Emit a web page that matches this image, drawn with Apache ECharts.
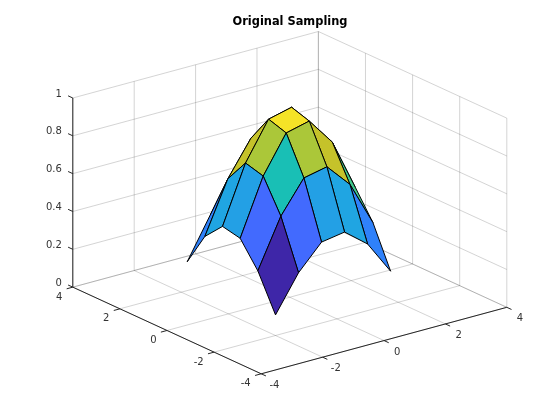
<!DOCTYPE html>
<html>
<head>
<meta charset="utf-8">
<style>html,body{margin:0;padding:0;background:#fff}#chart{width:560px;height:420px}</style>
<script src="https://cdn.jsdelivr.net/npm/echarts@6/dist/echarts.min.js"></script>
</head>
<body>
<div id="chart"></div>
<script>
const chartTitle = 'Original Sampling';
const xSamples = [-2, -1.25, -0.5, 0.25, 1, 1.75];
const ySamples = [-2, -1.25, -0.5, 0.25, 1, 1.75];
// Heights; one row per x sample, one column per y sample.
const row0 = [0.109, 0.299, 0.428, 0.448, 0.352, 0.175];
const row1 = [0.299, 0.555, 0.724, 0.750, 0.624, 0.389];
const row2 = [0.428, 0.724, 0.919, 0.949, 0.805, 0.533];
const row3 = [0.448, 0.750, 0.949, 0.979, 0.832, 0.555];
const row4 = [0.352, 0.624, 0.805, 0.832, 0.699, 0.448];
const row5 = [0.175, 0.389, 0.533, 0.555, 0.448, 0.250];
const heights = [row0, row1, row2, row3, row4, row5];
const xTicks = [-4, -2, 0, 2, 4];
const yTicks = [-4, -2, 0, 2, 4];
const zTicks = [0, 0.2, 0.4, 0.6, 0.8, 1];
const zTickLabels = ['0', '0.2', '0.4', '0.6', '0.8', '1'];
const parula = ['#3e26a8','#402ab4','#422ebf','#4332cb','#4537d5','#4641de','#4741e5','#4747eb','#484df0','#4852f4','#4758f8','#465efb','#4563fd','#426afe','#3e6fff','#3875fe','#327bfc','#2f81fa','#2d87f7','#2d8cf3','#2b91ef','#2796eb','#259be7','#23a0e5','#20a5e2','#1ca9df','#18addb','#12b1d6','#08b5d0','#01b8ca','#02bac3','#0bbdbc','#19bfb5','#24c1ae','#2cc3a7','#31c69f','#37c897','#3fca8e','#4acb84','#57cc7a','#64cd6f','#71cd64','#80cc59','#8fcb4e','#9dc943','#abc739','#b9c431','#c5c22a','#d1bf27','#dcbd29','#e6bb2d','#efba36','#f8ba3d','#feb93c','#fec338','#fec934','#fccf30','#f9d62d','#f7dc2a','#f5e327','#f5e924','#f6ef20','#f7f51b','#f9fb15'];

const view = { az: -37.5, el: 30 };
const xRange = [-4, 4], yRange = [-4, 4], zRange = [0, 1];
const az = view.az * Math.PI / 180, el = view.el * Math.PI / 180;
const uMax = (Math.cos(az) + Math.abs(Math.sin(az))) / 2;
const vMax = (Math.abs(Math.sin(az)) * Math.sin(el) + Math.cos(az) * Math.sin(el) + Math.cos(el)) / 2;

function project(x, y, z) {
  const X = (x - xRange[0]) / (xRange[1] - xRange[0]) - 0.5;
  const Y = (y - yRange[0]) / (yRange[1] - yRange[0]) - 0.5;
  const Z = (z - zRange[0]) / (zRange[1] - zRange[0]) - 0.5;
  return [
    X * Math.cos(az) + Y * Math.sin(az),
    -X * Math.sin(az) * Math.sin(el) + Y * Math.cos(az) * Math.sin(el) + Z * Math.cos(el)
  ];
}

const zLo = Math.min(...heights.flat()), zHi = Math.max(...heights.flat());
function faceColor(z) {
  const k = Math.min(parula.length - 1, Math.floor((z - zLo) / (zHi - zLo) * parula.length));
  return parula[k];
}

// Faces, farthest from the viewer first
const faces = [];
for (let i = xSamples.length - 2; i >= 0; i--) {
  for (let j = ySamples.length - 2; j >= 0; j--) {
    faces.push([i, j, heights[i][j]]);
  }
}

// Grid lines on the floor and the two back walls: [x0,y0,z0,x1,y1,z1]
const gridSegs = [];
xTicks.forEach(x => gridSegs.push([x, -4, 0, x, 4, 0], [x, 4, 0, x, 4, 1]));
yTicks.forEach(y => gridSegs.push([-4, y, 0, 4, y, 0], [4, y, 0, 4, y, 1]));
zTicks.forEach(z => gridSegs.push([-4, 4, z, 4, 4, z], [4, 4, z, 4, -4, z]));

// Axis lines and tick marks
const tickLen = 0.2;
const axisSegs = [[-4, 4, 0, -4, 4, 1], [-4, 4, 0, -4, -4, 0], [-4, -4, 0, 4, -4, 0]];
xTicks.forEach(x => axisSegs.push([x, -4, 0, x, -4 - tickLen, 0]));
yTicks.forEach(y => axisSegs.push([-4, y, 0, -4 - tickLen, y, 0]));
zTicks.forEach(z => axisSegs.push([-4, 4, z, -4, 4 + tickLen, z]));

// Tick labels: [text, x, y, z, dx, dy, align]
const labels = [];
xTicks.forEach(x => labels.push([String(x), x, -4, 0, 13.2, 11.5, 'center']));
yTicks.forEach(y => labels.push([String(y), -4, y, 0, -10.5, 10, 'right']));
zTicks.forEach((z, k) => labels.push([zTickLabels[k], -4, 4, z, -11, -4, 'right']));

function segRenderer(color, width) {
  return function (params, api) {
    const a = api.coord(project(api.value(0), api.value(1), api.value(2)));
    const b = api.coord(project(api.value(3), api.value(4), api.value(5)));
    return {
      type: 'line',
      shape: { x1: a[0], y1: a[1], x2: b[0], y2: b[1] },
      style: { stroke: color, lineWidth: width, fill: null },
      silent: true
    };
  };
}

const chart = echarts.init(document.getElementById('chart'), null, { renderer: 'canvas' });
chart.setOption({
  animation: false,
  backgroundColor: '#ffffff',
  title: {
    text: chartTitle,
    left: 285,
    top: 12,
    textAlign: 'center',
    textStyle: { fontFamily: 'DejaVu Sans', fontSize: 11.4, fontWeight: 'bold', color: '#000000' }
  },
  grid: { left: 72.8, top: 31.5, width: 434, height: 342.3 },
  xAxis: { type: 'value', min: -uMax, max: uMax, show: false },
  yAxis: { type: 'value', min: -vMax, max: vMax, show: false },
  series: [
    {
      type: 'custom', name: 'grid', coordinateSystem: 'cartesian2d', clip: false, silent: true, z: 1,
      data: gridSegs, renderItem: segRenderer('rgba(38,38,38,0.2)', 1)
    },
    {
      type: 'custom', name: 'surface', coordinateSystem: 'cartesian2d', clip: false, silent: true, z: 3,
      data: faces,
      renderItem: function (params, api) {
        const i = api.value(0), j = api.value(1);
        const corners = [[i, j], [i + 1, j], [i + 1, j + 1], [i, j + 1]];
        const points = corners.map(c => api.coord(project(xSamples[c[0]], ySamples[c[1]], heights[c[0]][c[1]])));
        return {
          type: 'polygon',
          shape: { points: points },
          style: { fill: faceColor(api.value(2)), stroke: '#000000', lineWidth: 1, lineJoin: 'round' },
          silent: true
        };
      }
    },
    {
      type: 'custom', name: 'axes', coordinateSystem: 'cartesian2d', clip: false, silent: true, z: 2,
      data: axisSegs, renderItem: segRenderer('#262626', 1)
    },
    {
      type: 'custom', name: 'tick labels', coordinateSystem: 'cartesian2d', clip: false, silent: true, z: 4,
      data: labels.map(l => l.slice(1, 4)),
      renderItem: function (params, api) {
        const l = labels[params.dataIndex];
        const p = api.coord(project(l[1], l[2], l[3]));
        return {
          type: 'text',
          x: p[0] + l[4],
          y: p[1] + l[5],
          style: {
            text: l[0], align: l[6], verticalAlign: 'middle',
            font: '10px "DejaVu Sans"', fill: '#333333'
          },
          silent: true
        };
      }
    }
  ]
});
</script>
</body>
</html>
